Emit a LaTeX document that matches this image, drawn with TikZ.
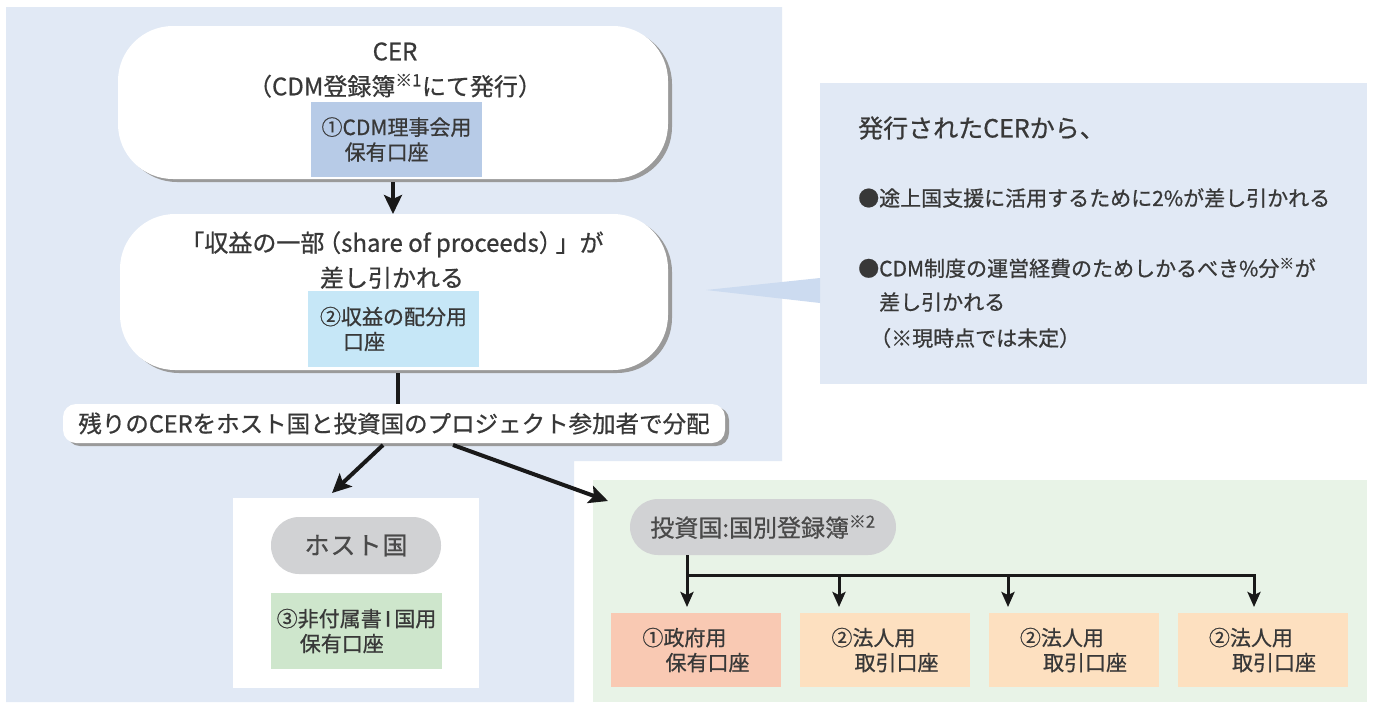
\documentclass[tikz,border=0pt]{standalone}
\usepackage{fontspec}
\setmainfont{Noto Sans CJK JP}[FakeBold=0.7]
\usetikzlibrary{arrows.meta,shadows}
\definecolor{panelblue}{HTML}{E1E9F5}
\definecolor{panelgreen}{HTML}{E8F3E7}
\definecolor{pointerblue}{HTML}{CCDBF0}
\definecolor{subblue}{HTML}{B7CBE7}
\definecolor{subcyan}{HTML}{C6E7F7}
\definecolor{pillgray}{HTML}{D1D2D4}
\definecolor{subgreen}{HTML}{CEE6CC}
\definecolor{salmon}{HTML}{F9C9B3}
\definecolor{peach}{HTML}{FDE0C0}
\definecolor{shadowgray}{HTML}{9A9A9A}
\definecolor{txt}{HTML}{383838}
\definecolor{pilltxt}{HTML}{4A4A4A}
\newcommand\fsz[2]{\fontsize{#1}{#2}\selectfont}
\tikzset{
  mshadow/.style={drop shadow={shadow xshift=4pt, shadow yshift=-3pt, fill=shadowgray, opacity=1}},
  bigbox/.style={fill=white, rounded corners=55pt, inner sep=0pt, outer sep=0pt, mshadow},
  bigtext/.style={align=center, text=txt, font=\fsz{24}{35}, inner sep=0pt},
  subbox/.style={inner sep=0pt, outer sep=0pt, align=left, text=txt, font=\fsz{21}{25}},
  accbox/.style={subbox, minimum width=170, minimum height=74},
  pill/.style={fill=pillgray, rounded corners=28pt, inner sep=0pt, outer sep=0pt, text=pilltxt},
  ctext/.style={anchor=west, inner sep=0pt, text=txt, font=\fsz{21}{25}},
  mainline/.style={line width=4pt, draw=black!90},
  mainarrow/.style={mainline, -{Stealth[length=19pt,width=18pt,inset=4pt]}},
  tree/.style={line width=3pt, draw=black!90},
  treearrow/.style={tree, -{Stealth[length=15pt,width=13pt,inset=3pt]}, shorten >=6pt},
}
\begin{document}
\begin{tikzpicture}[x=1pt,y=-1pt]
\useasboundingbox (0,0) rectangle (1373,702);
\fill[white] (0,0) rectangle (1373,702);
% panels
\fill[panelblue] (6,7) -- (782,7) -- (782,461) -- (574,461) -- (574,702) -- (6,702) -- cycle;
\node[fill=panelgreen, minimum width=774, minimum height=222, anchor=north west, inner sep=0, outer sep=0] (greenpanel) at (593,480) {};
\node[fill=panelblue, minimum width=547, minimum height=301, anchor=north west, inner sep=0, outer sep=0] (callout) at (820,83) {};
\fill[pointerblue] (706,290) -- (820,278) -- (820,303) -- cycle;
% top box
\node[bigbox, minimum width=550, minimum height=153] (cer) at (393,102.5) {};
\node[bigtext] (certitle) at (395,70) {CER\\（CDM登録簿\textsuperscript{※1}にて発行）};
\node[fill=subblue, subbox, minimum width=171, minimum height=75] (acc1) at (396.5,139.5) {①CDM理事会用\\\hspace{1.1em}保有口座};
% share of proceeds box
\node[bigbox, minimum width=548, minimum height=156] (sop) at (394,292) {};
\node[bigtext] (soptitle) at (392,260) {「収益の一部\kern-0.3em（share of proceeds）\kern-0.3em」が\\差し引かれる};
\node[fill=subcyan, subbox, minimum width=171, minimum height=76] (acc2) at (393.5,329) {②収益の配分用\\\hspace{1.1em}口座};
% distribution label
\node[fill=white, rounded corners=13pt, minimum width=662, minimum height=39, inner sep=0, outer sep=0, mshadow, font=\fsz{23.5}{28}, text=txt] (dist) at (394,423.5) {残りのCERをホスト国と投資国のプロジェクト参加者で分配};
% host country
\node[fill=white, minimum width=246, minimum height=190, inner sep=0, outer sep=0] (hostbox) at (356,593) {};
\node[pill, minimum width=170, minimum height=57, font=\fsz{25}{30}] (host) at (356,545.5) {ホ\kern1pt ス\kern1pt ト\kern1pt 国};
\node[fill=subgreen, subbox, minimum width=171, minimum height=76] (acc3) at (356.5,631) {③非付属書\kern-0.2em Ⅰ\kern-0.2em 国用\\\hspace{1.1em}保有口座};
% investor country
\node[pill, minimum width=266, minimum height=56, font=\fsz{24}{29}] (inv) at (763,527) {投資国:国別登録簿\textsuperscript{※2}};
\node[fill=salmon, accbox] (gov) at (696,650) {①政府用\\\hspace{1.1em}保有口座};
\node[fill=peach, accbox] (corp1) at (885,650) {②法人用\\\hspace{1.1em}取引口座};
\node[fill=peach, accbox] (corp2) at (1073.5,650) {②法人用\\\hspace{1.1em}取引口座};
\node[fill=peach, accbox] (corp3) at (1262.5,650) {②法人用\\\hspace{1.1em}取引口座};
% callout texts
\node[ctext, font=\fsz{25}{30}] (ctitle) at (858,128) {発行されたCERから、};
\node[ctext] (cb1) at (858,198) {●途上国支援に活用するために2\%が差し引かれる};
\node[ctext] (cb2) at (858,268) {●CDM制度の運営経費のためしかるべき\%分\textsuperscript{※}が};
\node[ctext] (cb3) at (879,302) {差し引かれる};
\node[ctext] (cb4) at (870,338) {（※現時点では未定）};
% connectors
\draw[mainarrow] ([yshift=-3pt]cer.south) -- (cer.south |- sop.north);
\draw[mainline] ([xshift=4pt,yshift=-3pt]sop.south) -- ([xshift=4pt]sop.south |- dist.north);
\draw[mainarrow] ([xshift=-11pt,yshift=-2pt]dist.south) -- ([xshift=-24pt,yshift=5pt]hostbox.north);
\draw[mainarrow] ([xshift=59pt,yshift=-2pt]dist.south) -- ([xshift=15pt,yshift=-21pt]greenpanel.north west);
% tree
\coordinate (j0) at (687,575);
\coordinate (j1) at (839,575);
\coordinate (j2) at (1008,575);
\coordinate (j3) at (1254,575);
\draw[tree] (inv.south -| j0) -- (j0);
\draw[treearrow] (j0) -- (gov.north -| j0);
\draw[treearrow] (j0) -| (corp3.north -| j3);
\draw[treearrow] (j1) -- (corp1.north -| j1);
\draw[treearrow] (j2) -- (corp2.north -| j2);
\end{tikzpicture}
\end{document}
